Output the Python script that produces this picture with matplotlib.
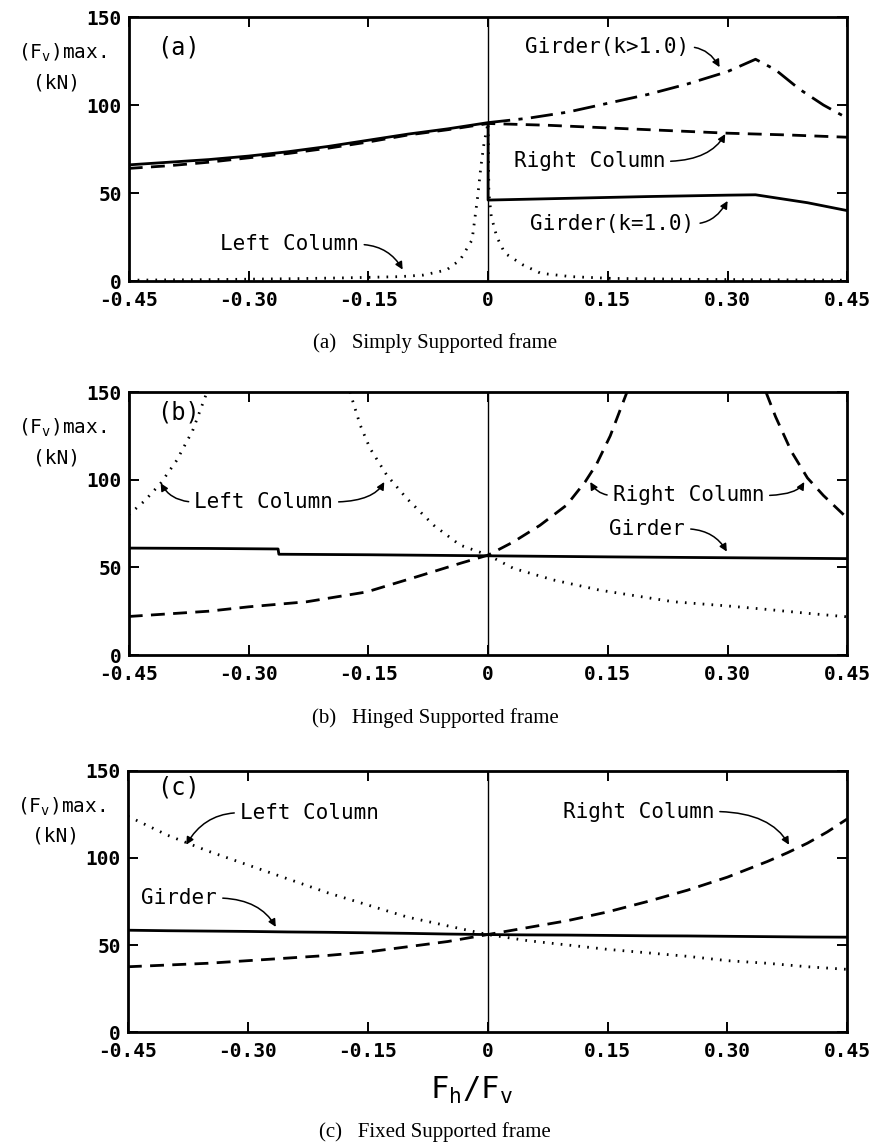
"""Maximum vertical load (Fv)max against Fh/Fv for three support conditions."""

import matplotlib.pyplot as plt

MONO = "DejaVu Sans Mono"
SERIF = "Liberation Serif"

# ---- (a) simply supported frame ----
a_girder1_x = [-0.45, -0.40, -0.35, -0.30, -0.25, -0.20, -0.15, -0.10, -0.05, 0.0,
               0.0, 0.10, 0.20, 0.30, 0.335, 0.40, 0.45]
a_girder1_y = [66, 67.5, 69, 71, 73.5, 76.5, 80, 83.5, 86.5, 90,
               46, 47, 48, 48.8, 49, 44.5, 40]
a_girder2_x = [0.0, 0.05, 0.10, 0.15, 0.20, 0.25, 0.30, 0.335, 0.36, 0.39, 0.42, 0.45]
a_girder2_y = [90, 92.5, 96, 101, 106, 112, 119, 126, 120, 109, 100, 92.5]
a_right_x = [-0.45, -0.40, -0.35, -0.30, -0.25, -0.20, -0.15, -0.10, -0.05, 0.0,
             0.075, 0.15, 0.225, 0.30, 0.375, 0.45]
a_right_y = [64, 65.5, 67.5, 70, 72.5, 75.5, 79, 83, 86, 89.5,
             88.5, 87, 85.5, 84, 83, 81.7]
a_left_x = [-0.45, -0.35, -0.25, -0.18, -0.11, -0.081, -0.052, -0.035, -0.02, -0.013,
            -0.009, -0.005, 0.0, 0.001, 0.004, 0.011, 0.021, 0.044, 0.066, 0.104,
            0.155, 0.25, 0.35, 0.45]
a_left_y = [0.5, 0.8, 1.3, 1.8, 2.5, 3.4, 6.3, 12, 23.4, 48,
            65, 78.5, 90, 50, 36.7, 25, 15.8, 9.1, 4.4, 2.5,
            1.5, 1.0, 0.7, 0.5]

# ---- (b) hinged supported frame ----
b_girder_x = [-0.45, -0.35, -0.263, -0.262, -0.15, 0.0, 0.15, 0.30, 0.45]
b_girder_y = [61, 60.8, 60.5, 57.5, 57.2, 56.6, 56, 55.5, 55]
b_left1_x = [-0.45, -0.43, -0.41, -0.39, -0.37, -0.352]
b_left1_y = [80, 88, 98, 111, 128, 150]
b_left2_x = [-0.173, -0.16, -0.148, -0.127, -0.102, -0.068, -0.035, 0.0, 0.032, 0.082,
             0.14, 0.232, 0.30, 0.35, 0.40, 0.45]
b_left2_y = [150, 131, 118, 102.7, 89.4, 74, 62.7, 57, 49.4, 42.8,
             37, 30.4, 28, 26, 23.8, 21.8]
b_right1_x = [-0.45, -0.40, -0.35, -0.30, -0.227, -0.152, -0.089, -0.035, 0.0, 0.032,
              0.065, 0.0986, 0.1216, 0.136, 0.153, 0.174]
b_right1_y = [22, 23.5, 25, 27.5, 30.4, 36, 44.7, 52.3, 57, 64.6,
              74, 85.6, 98.8, 109, 125, 150]
b_right2_x = [0.348, 0.36, 0.38, 0.40, 0.42, 0.45]
b_right2_y = [150, 136, 116, 101, 91, 78]

# ---- (c) fixed supported frame ----
c_x = [-0.45, -0.40, -0.35, -0.30, -0.25, -0.20, -0.15, -0.10, -0.05, 0.0,
       0.05, 0.10, 0.15, 0.20, 0.25, 0.30, 0.35, 0.40, 0.45]
c_girder_y = [58.5, 58.2, 58, 57.8, 57.5, 57.3, 57, 56.7, 56.3, 56,
              55.8, 55.7, 55.5, 55.3, 55.2, 55, 54.8, 54.6, 54.5]
c_left_y = [124, 113, 104, 96, 88, 80, 73, 66, 61, 56,
            52.5, 50, 47.5, 45.5, 43.5, 41, 39.5, 37.5, 36]
c_right_x = [-0.45, -0.40, -0.35, -0.30, -0.25, -0.20, -0.15, -0.10, -0.05, 0.0,
             0.05, 0.10, 0.15, 0.20, 0.25, 0.30, 0.325, 0.35, 0.375, 0.40,
             0.425, 0.45]
c_right_y = [37.5, 38.5, 39.5, 41, 42.5, 44, 46, 49, 52, 56,
             60, 64, 69, 75, 81.5, 89, 93.5, 98, 103, 108.5,
             115, 122.5]

xticks = [-0.45, -0.30, -0.15, 0.0, 0.15, 0.30, 0.45]
xticklabels = ["-0.45", "-0.30", "-0.15", "0", "0.15", "0.30", "0.45"]
yticks = [0, 50, 100, 150]

DOT = dict(color="black", lw=2.0, linestyle=(0, (0.6, 2.6)))
DASH = dict(color="black", lw=2.0, linestyle=(0, (5, 3)))
SOLID = dict(color="black", lw=2.0)
DASHDOT = dict(color="black", lw=2.0, linestyle=(0, (8, 3, 1.5, 3)))


def setup_axes(ax, letter, letter_y):
    ax.set_xlim(-0.45, 0.45)
    ax.set_ylim(0, 150)
    ax.set_xticks(xticks)
    ax.set_xticklabels(xticklabels)
    ax.set_yticks(yticks)
    ax.tick_params(direction="in", top=True, right=True, length=7, width=1.4,
                   labelsize=14)
    ax.tick_params(axis="x", pad=7)
    ax.tick_params(axis="y", pad=5)
    for lab in ax.get_xticklabels() + ax.get_yticklabels():
        lab.set_family(MONO)
        lab.set_fontweight("bold")
    for sp in ax.spines.values():
        sp.set_linewidth(2.0)
    ax.axvline(0, color="black", lw=1.0)
    ax.text(0.04, letter_y, letter, transform=ax.transAxes, family=MONO,
            fontsize=17, va="center", ha="left")
    ax.text(-0.092, 0.863, r"(F$_\mathregular{v}$)max.", transform=ax.transAxes,
            family=MONO, fontsize=14, ha="center", va="center")
    ax.text(-0.100, 0.750, "(kN)", transform=ax.transAxes,
            family=MONO, fontsize=14, ha="center", va="center")


def leader(ax, label, text_xy, tip, angle_b, side="right", show_text=True):
    relpos = (1.0, 0.5) if side == "right" else (0.0, 0.5)
    ax.annotate(label, xy=tip, xytext=text_xy, family=MONO, fontsize=15,
                ha="left", va="center", color="black" if show_text else "none",
                arrowprops=dict(arrowstyle="-|>", color="black", lw=1.1,
                                mutation_scale=11, relpos=relpos,
                                shrinkA=2, shrinkB=0,
                                connectionstyle=f"angle3,angleA=0,angleB={angle_b}"))


fig = plt.figure(figsize=(8.7, 11.42), dpi=100)
ax_a = fig.add_axes([0.148, 0.7539, 0.826, 0.2312])
ax_b = fig.add_axes([0.148, 0.4264, 0.826, 0.2303])
ax_c = fig.add_axes([0.147, 0.0963, 0.827, 0.2286])

# (a)
ax_a.plot(a_left_x, a_left_y, **DOT)
ax_a.plot(a_right_x, a_right_y, **DASH)
ax_a.plot(a_girder2_x, a_girder2_y, **DASHDOT)
ax_a.plot(a_girder1_x, a_girder1_y, **SOLID)
setup_axes(ax_a, "(a)", 0.886)
leader(ax_a, "Girder(k>1.0)", (0.046, 133), (0.29, 121.5), -60)
leader(ax_a, "Right Column", (0.032, 68), (0.297, 83.5), 60)
leader(ax_a, "Girder(k=1.0)", (0.053, 32.6), (0.30, 45.5), 60)
leader(ax_a, "Left Column", (-0.336, 20.8), (-0.107, 6.5), -60)

# (b)
ax_b.plot(b_left1_x, b_left1_y, **DOT)
ax_b.plot(b_left2_x, b_left2_y, **DOT)
ax_b.plot(b_right1_x, b_right1_y, **DASH)
ax_b.plot(b_right2_x, b_right2_y, **DASH)
ax_b.plot(b_girder_x, b_girder_y, **SOLID)
setup_axes(ax_b, "(b)", 0.924)
leader(ax_b, "Left Column", (-0.368, 87.3), (-0.41, 98), 120, side="left")
leader(ax_b, "Left Column", (-0.368, 87.3), (-0.13, 98.7), 60, show_text=False)
leader(ax_b, "Right Column", (0.156, 91), (0.128, 98.7), 120, side="left")
leader(ax_b, "Right Column", (0.156, 91), (0.396, 98.7), 60, show_text=False)
leader(ax_b, "Girder", (0.152, 72), (0.299, 59), -60)

# (c)
ax_c.plot(c_x, c_left_y, **DOT)
ax_c.plot(c_right_x, c_right_y, **DASH)
ax_c.plot(c_x, c_girder_y, **SOLID)
setup_axes(ax_c, "(c)", 0.935)
leader(ax_c, "Left Column", (-0.31, 126), (-0.377, 107.6), 60, side="left")
leader(ax_c, "Right Column", (0.094, 126.7), (0.377, 107.6), -60)
leader(ax_c, "Girder", (-0.433, 77), (-0.265, 60.4), -60)

fig.text(472 / 870, 1 - 1090 / 1142, r"F$_\mathregular{h}$/F$_\mathregular{v}$",
         family=MONO, fontsize=22, ha="center", va="center")

captions = ["(a)   Simply Supported frame",
            "(b)   Hinged Supported frame",
            "(c)   Fixed Supported frame"]
caption_y = [343, 718, 1132]
for cap, cy in zip(captions, caption_y):
    fig.text(435 / 870, 1 - cy / 1142, cap, family=SERIF, fontsize=15,
             ha="center", va="center")

fig.savefig("out.png", dpi=100)
